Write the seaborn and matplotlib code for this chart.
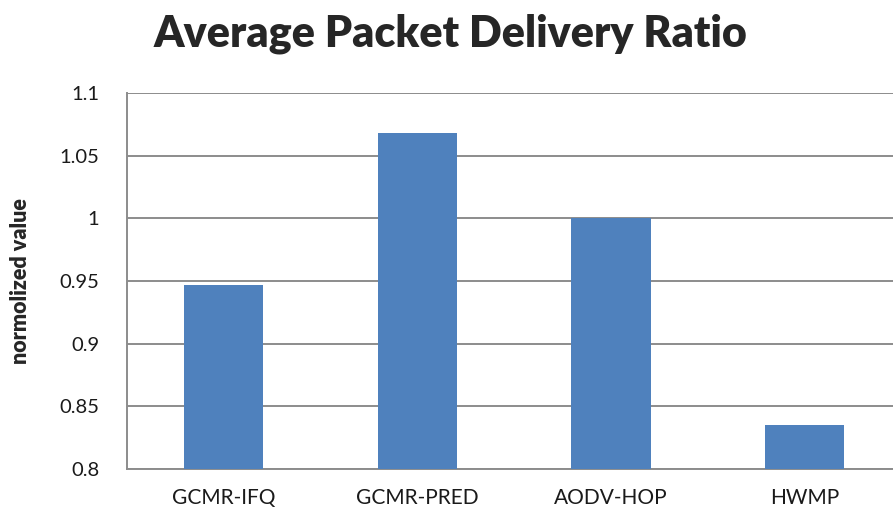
import matplotlib
matplotlib.use("Agg")
import matplotlib.pyplot as plt
import seaborn as sns
import pandas as pd
import numpy as np

# data
protocols = ["GCMR-IFQ", "GCMR-PRED", "AODV-HOP", "HWMP"]
pdr = [0.947, 1.068, 1.000, 0.835]
yticks = [0.8, 0.85, 0.9, 0.95, 1.0, 1.05, 1.1]
ytick_labels = ["0.8", "0.85", "0.9", "0.95", "1", "1.05", "1.1"]

df = pd.DataFrame({"protocol": protocols, "pdr": pdr})

sns.set_style("white")
plt.rcParams["font.family"] = ["Lato", "DejaVu Sans"]

fig = plt.figure(figsize=(8.93, 5.24), dpi=100)
ax = fig.add_axes([0.1422, 0.105, 0.867, 0.7176])

sns.barplot(data=df, x="protocol", y="pdr", color="#4F81BD", saturation=1,
            width=0.41, linewidth=0, ax=ax, zorder=3)

ax.set_ylim(0.8, 1.1)
ax.set_xlim(-0.5, 3.5)
ax.set_yticks(yticks)
ax.set_yticklabels(ytick_labels, fontsize=14.5, color="#1a1a1a")
ax.yaxis.grid(True, color="#8c8c8c", linewidth=1.4, zorder=0)
ax.set_axisbelow(True)

# category boundary ticks like excel
ax.set_xticks(range(len(protocols)))
ax.set_xticklabels(protocols, fontsize=15, color="#1a1a1a")
ax.set_xticks(np.arange(-0.5, len(protocols), 1), minor=True)
ax.tick_params(axis="x", which="major", length=0, pad=14)
ax.tick_params(axis="x", which="minor", length=8, color="#8c8c8c", width=1.4, direction="out")
ax.tick_params(axis="y", length=8, color="#8c8c8c", width=1.4, direction="out", pad=12)

for s in ["top", "right"]:
    ax.spines[s].set_visible(False)
for s in ["left", "bottom"]:
    ax.spines[s].set_color("#8c8c8c")
    ax.spines[s].set_linewidth(1.4)

ax.set_xlabel("")
ax.set_ylabel("normolized value", fontsize=15.5, fontweight="heavy", labelpad=20)
fig.suptitle("Average Packet Delivery Ratio", fontsize=31, fontweight="heavy", x=0.505, y=0.975)

fig.savefig("out.png", dpi=100)
